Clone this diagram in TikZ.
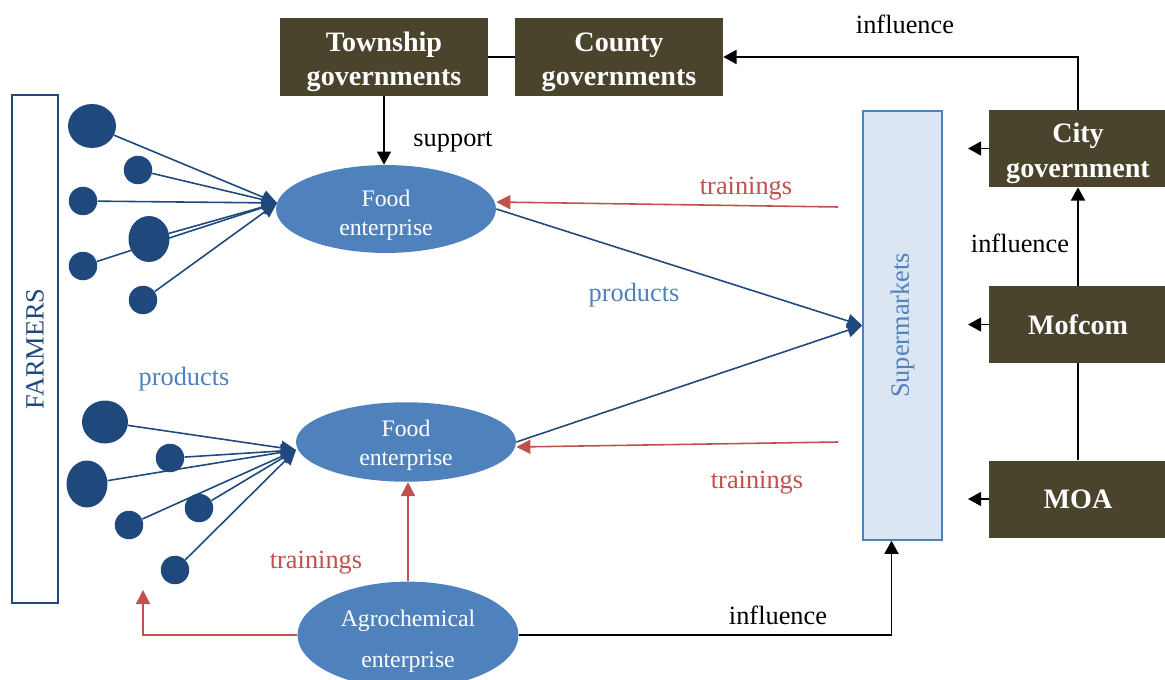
\documentclass[tikz,border=0pt]{standalone}
\usepackage{fontspec}
\setmainfont{Liberation Serif}
\usetikzlibrary{shapes.geometric,arrows.meta}

\definecolor{govbrown}{RGB}{74,68,44}
\definecolor{farmblue}{RGB}{31,73,125}
\definecolor{entblue}{RGB}{79,129,189}
\definecolor{marketfill}{RGB}{220,230,242}
\definecolor{trainred}{RGB}{192,80,77}

% strut that pushes a two-line text a little down in its shape
\newcommand{\padtop}[1]{\rule{0pt}{#1}}

\tikzset{
  govbox/.style={rectangle, fill=govbrown, text=white, font=\fontsize{16}{19.5}\selectfont\bfseries,
    align=center, minimum width=4.16cm, minimum height=1.56cm, inner sep=0pt},
  enterprise/.style={ellipse, fill=entblue, text=white, font=\fontsize{13.5}{16.5}\selectfont,
    align=center, minimum width=4.4cm, minimum height=1.6cm, inner sep=0pt},
  farmer/.style={ellipse, fill=farmblue, inner sep=0pt, minimum width=0.57cm, minimum height=0.57cm},
  farmline/.style={draw=farmblue, line width=0.9pt, -{Triangle[length=8.5pt,width=8pt]}},
  trainline/.style={draw=trainred, line width=0.9pt, -{Triangle[length=8pt,width=8pt]}},
  govline/.style={draw=black, line width=0.9pt, -{Triangle[length=7.5pt,width=8pt]}},
  lbl/.style={font=\fontsize{15}{18}\selectfont},
}

\begin{document}
\begin{tikzpicture}[x=0.02cm, y=-0.02cm]
\useasboundingbox (0,0) rectangle (1165,679);

% governments
\node[govbox] (town) at (384,57) {\padtop{16.6pt}Township\\governments};
\node[govbox] (county) at (619,57) {\padtop{16.6pt}County\\governments};
\node[govbox, minimum width=3.56cm, minimum height=1.54cm] (city) at (1078,148.5) {\padtop{16.6pt}City\\government};
\node[govbox, minimum width=3.56cm, minimum height=1.54cm] (mof) at (1078,324.5) {Mofcom};
\node[govbox, minimum width=3.56cm, minimum height=1.54cm] (moa) at (1078,499) {MOA};

% supermarkets and farmers
\node[rectangle, draw=entblue, line width=0.9pt, fill=marketfill, minimum width=1.58cm, minimum height=8.58cm,
  inner sep=0pt] (super) at (902.5,325.5) {};
\node[rotate=90, lbl, text=entblue] at (super.center) {Supermarkets};
\node[rectangle, draw=farmblue, line width=0.9pt, minimum width=0.92cm, minimum height=10.16cm,
  inner sep=0pt] (farmers) at (35,349) {};
\node[rotate=90, lbl, text=farmblue] at (farmers.center) {FARMERS};

% enterprises
\node[enterprise] (food1) at (386,209) {\padtop{16pt}Food\\enterprise};
\node[enterprise, minimum height=1.56cm] (food2) at (406,442) {\padtop{12.6pt}Food\\enterprise};
\node[enterprise, font=\fontsize{13.5}{23.5}\selectfont, minimum width=4.42cm, minimum height=1.92cm]
  (agro) at (408,635) {\padtop{16.6pt}Agrochemical\\enterprise};

% upper group of farmers
\node[farmer, minimum width=0.96cm, minimum height=0.88cm] (u1) at (92,126) {};
\node[farmer] (u2) at (138,170) {};
\node[farmer] (u3) at (83,201) {};
\node[farmer, minimum width=0.82cm, minimum height=0.92cm] (u4) at (149,239) {};
\node[farmer] (u5) at (83,266) {};
\node[farmer] (u6) at (143,300) {};
\coordinate (ut) at (277,203);

% lower group of farmers
\node[farmer, minimum width=0.92cm, minimum height=0.86cm] (l1) at (105,422) {};
\node[farmer] (l2) at (170,458) {};
\node[farmer, minimum width=0.82cm, minimum height=0.94cm] (l3) at (87,484) {};
\node[farmer] (l4) at (199,508) {};
\node[farmer] (l5) at (129,525) {};
\node[farmer] (l6) at (175,570) {};
\coordinate (lt) at (296,450);

\foreach \i in {1,...,6} {
  \draw[farmline] (u\i) -- (ut);
  \draw[farmline] (l\i) -- (lt);
}

% products
\draw[farmline] (food1.east) -- (super.west);
\draw[farmline] (food2.east) -- (super.west);
\node[lbl, text=entblue] at (634,295) {products};
\node[lbl, text=entblue] at (184,379) {products};

% trainings
\coordinate (tr1) at (838,207);
\coordinate (tr2) at (838,442);
\coordinate (trf) at (143,590);
\draw[trainline] (tr1) -- ([yshift=0.14cm]food1.east);
\draw[trainline] (tr2) -- ([yshift=-0.1cm]food2.east);
\draw[trainline] (agro.north) -- (agro.north |- food2.south);
\draw[trainline] (agro.west) -| (trf);
\node[lbl, text=trainred] at (746,189) {trainings};
\node[lbl, text=trainred] at (757,483) {trainings};
\node[lbl, text=trainred] at (316,563) {trainings};

% influence and support
\coordinate (ci) at (968,148.5);
\coordinate (mi) at (968,324.5);
\coordinate (ai) at (968,499);
\draw[govline] (city.west) -- (ci);
\draw[govline] (mof.west) -- (mi);
\draw[govline] (moa.west) -- (ai);
\draw[line width=0.9pt] (moa.north) -- (mof.south);
\draw[govline] (mof.north) -- (city.south);
\draw[govline] (city.north) |- (county.east);
\draw[line width=0.9pt] (town.east) -- (county.west);
\draw[govline] (town.south) -- (town.south |- food1.north);
\draw[govline] (agro.east) -| ([xshift=-0.22cm]super.south);
\node[lbl] at (905,24) {influence};
\node[lbl] at (1020,243) {influence};
\node[lbl] at (778,615) {influence};
\node[lbl] at (453,142) {support};
\end{tikzpicture}
\end{document}
